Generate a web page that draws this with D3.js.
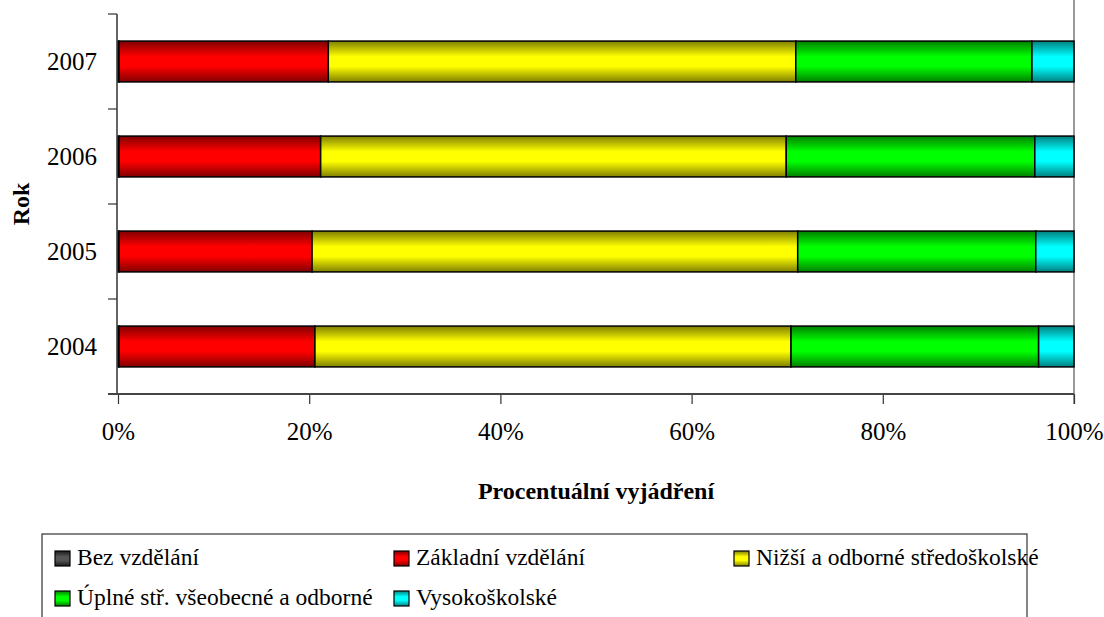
<!DOCTYPE html>
<html>
<head>
<meta charset="utf-8">
<script src="https://cdn.jsdelivr.net/npm/d3@7"></script>
<style>
  html, body { margin: 0; padding: 0; background: #fff; }
  svg { display: block; }
  svg text { font-family: "Liberation Serif", "DejaVu Serif", serif; }
</style>
</head>
<body>
<svg id="chart" width="1104" height="617"></svg>
<script>
// Education structure by year, share of each level in %
const years = ["2004", "2005", "2006", "2007"];
const seriesNames = [
  "Bez vzdělání",
  "Základní vzdělání",
  "Nižší a odborné středoškolské",
  "Úplné stř. všeobecné a odborné",
  "Vysokoškolské"
];
const bezVzdelani   = [0.1, 0.1, 0.1, 0.1];
const zakladni      = [20.5, 20.2, 21.1, 21.9];
const nizsi         = [49.8, 50.8, 48.7, 48.9];
const uplne         = [25.9, 24.9, 26.0, 24.7];
const vysokoskolske = [3.7, 4.0, 4.1, 4.4];
const xTicks = [0, 20, 40, 60, 80, 100];

const seriesValues = [bezVzdelani, zakladni, nizsi, uplne, vysokoskolske];
const baseColors = ["#555555", "#ff0000", "#ffff00", "#00ff00", "#00ffff"];
const darkColors = ["#1a1a1a", "#800000", "#808000", "#008000", "#008080"];
const FONT = "'Liberation Serif', 'DejaVu Serif', serif";

const svg = d3.select("#chart");
const margin = { left: 118, right: 1074, top: 14, bottom: 394 };

// Vertical gradients: dark at the edges, bright in the middle
const defs = svg.append("defs");
baseColors.forEach((c, i) => {
  const g = defs.append("linearGradient")
    .attr("id", "grad" + i)
    .attr("x1", 0).attr("y1", 0).attr("x2", 0).attr("y2", 1);
  g.append("stop").attr("offset", "0%").attr("stop-color", darkColors[i]);
  g.append("stop").attr("offset", "38%").attr("stop-color", c);
  g.append("stop").attr("offset", "62%").attr("stop-color", c);
  g.append("stop").attr("offset", "100%").attr("stop-color", darkColors[i]);
});

// Build normalized stacked data
const rows = years.map((y, yi) => {
  const r = { year: y };
  const total = d3.sum(seriesValues, s => s[yi]);
  seriesNames.forEach((n, si) => { r[n] = seriesValues[si][yi] / total; });
  return r;
});
const stacked = d3.stack().keys(seriesNames)(rows);

const x = d3.scaleLinear().domain([0, 1]).range([margin.left, margin.right]);
const y = d3.scaleBand()
  .domain(years.slice().reverse())
  .range([margin.top, margin.bottom])
  .paddingInner(0.57).paddingOuter(0.285);

// Right plot border
svg.append("line")
  .attr("x1", margin.right).attr("x2", margin.right)
  .attr("y1", 0).attr("y2", margin.bottom + 10)
  .attr("stroke", "#9a9a9a").attr("stroke-width", 2);

// Bars
stacked.forEach((layer, si) => {
  svg.append("g")
    .selectAll("rect")
    .data(layer)
    .join("rect")
    .attr("x", d => x(d[0]))
    .attr("y", d => y(d.data.year))
    .attr("width", d => x(d[1]) - x(d[0]))
    .attr("height", y.bandwidth())
    .attr("fill", `url(#grad${si})`)
    .attr("stroke", "#000")
    .attr("stroke-width", 1.5);
});

// Y axis (category boundaries as ticks)
const yLine = svg.append("g");
yLine.append("line")
  .attr("x1", margin.left - 1).attr("x2", margin.left - 1)
  .attr("y1", margin.top).attr("y2", margin.bottom)
  .attr("stroke", "#333").attr("stroke-width", 1.5);
const step = (margin.bottom - margin.top) / years.length;
d3.range(years.length + 1).forEach(i => {
  const yy = margin.top + i * step;
  yLine.append("line")
    .attr("x1", margin.left - 10).attr("x2", margin.left - 1)
    .attr("y1", yy).attr("y2", yy)
    .attr("stroke", "#333").attr("stroke-width", 1.2);
});
years.forEach(yr => {
  svg.append("text")
    .attr("x", 97)
    .attr("y", y(yr) + y.bandwidth() / 2)
    .attr("dy", "0.35em")
    .attr("text-anchor", "end")
    .attr("font-family", FONT)
    .attr("font-size", 25)
    .attr("fill", "#000")
    .text(yr);
});

// X axis
const xAxis = d3.axisBottom(x)
  .tickValues(xTicks.map(v => v / 100))
  .tickFormat(v => Math.round(v * 100) + "%")
  .tickSize(10)
  .tickPadding(18);
const gx = svg.append("g")
  .attr("transform", `translate(0,${margin.bottom})`)
  .call(xAxis);
gx.attr("font-family", FONT);
gx.select(".domain").remove();
gx.selectAll(".tick line").attr("stroke", "#333").attr("stroke-width", 1.2);
gx.selectAll(".tick text")
  .attr("font-family", FONT)
  .attr("font-size", 25).attr("fill", "#000");
svg.append("line")
  .attr("x1", margin.left - 10).attr("x2", margin.right)
  .attr("y1", margin.bottom).attr("y2", margin.bottom)
  .attr("stroke", "#444").attr("stroke-width", 2);

// Axis titles
svg.append("text")
  .attr("x", (margin.left + margin.right) / 2)
  .attr("y", 499)
  .attr("text-anchor", "middle")
  .attr("font-family", FONT)
  .attr("font-size", 24).attr("font-weight", "bold")
  .text("Procentuální vyjádření");
svg.append("text")
  .attr("transform", `translate(29,${(margin.top + margin.bottom) / 2}) rotate(-90)`)
  .attr("text-anchor", "middle")
  .attr("font-family", FONT)
  .attr("font-size", 24).attr("font-weight", "bold")
  .text("Rok");

// Legend
svg.append("rect")
  .attr("x", 42).attr("y", 534)
  .attr("width", 985).attr("height", 100)
  .attr("fill", "#fff").attr("stroke", "#333").attr("stroke-width", 1.2);
const legendPos = [
  [55, 551], [394, 551], [734, 551],
  [55, 591], [394, 591]
];
seriesNames.forEach((n, i) => {
  const [lx, ly] = legendPos[i];
  svg.append("rect")
    .attr("x", lx).attr("y", ly)
    .attr("width", 15).attr("height", 15)
    .attr("fill", `url(#grad${i})`)
    .attr("stroke", "#000").attr("stroke-width", 1.2);
  svg.append("text")
    .attr("x", lx + 22).attr("y", ly + 14)
    .attr("font-family", FONT)
    .attr("font-size", 23.5)
    .attr("fill", "#000")
    .text(n);
});
</script>
</body>
</html>
